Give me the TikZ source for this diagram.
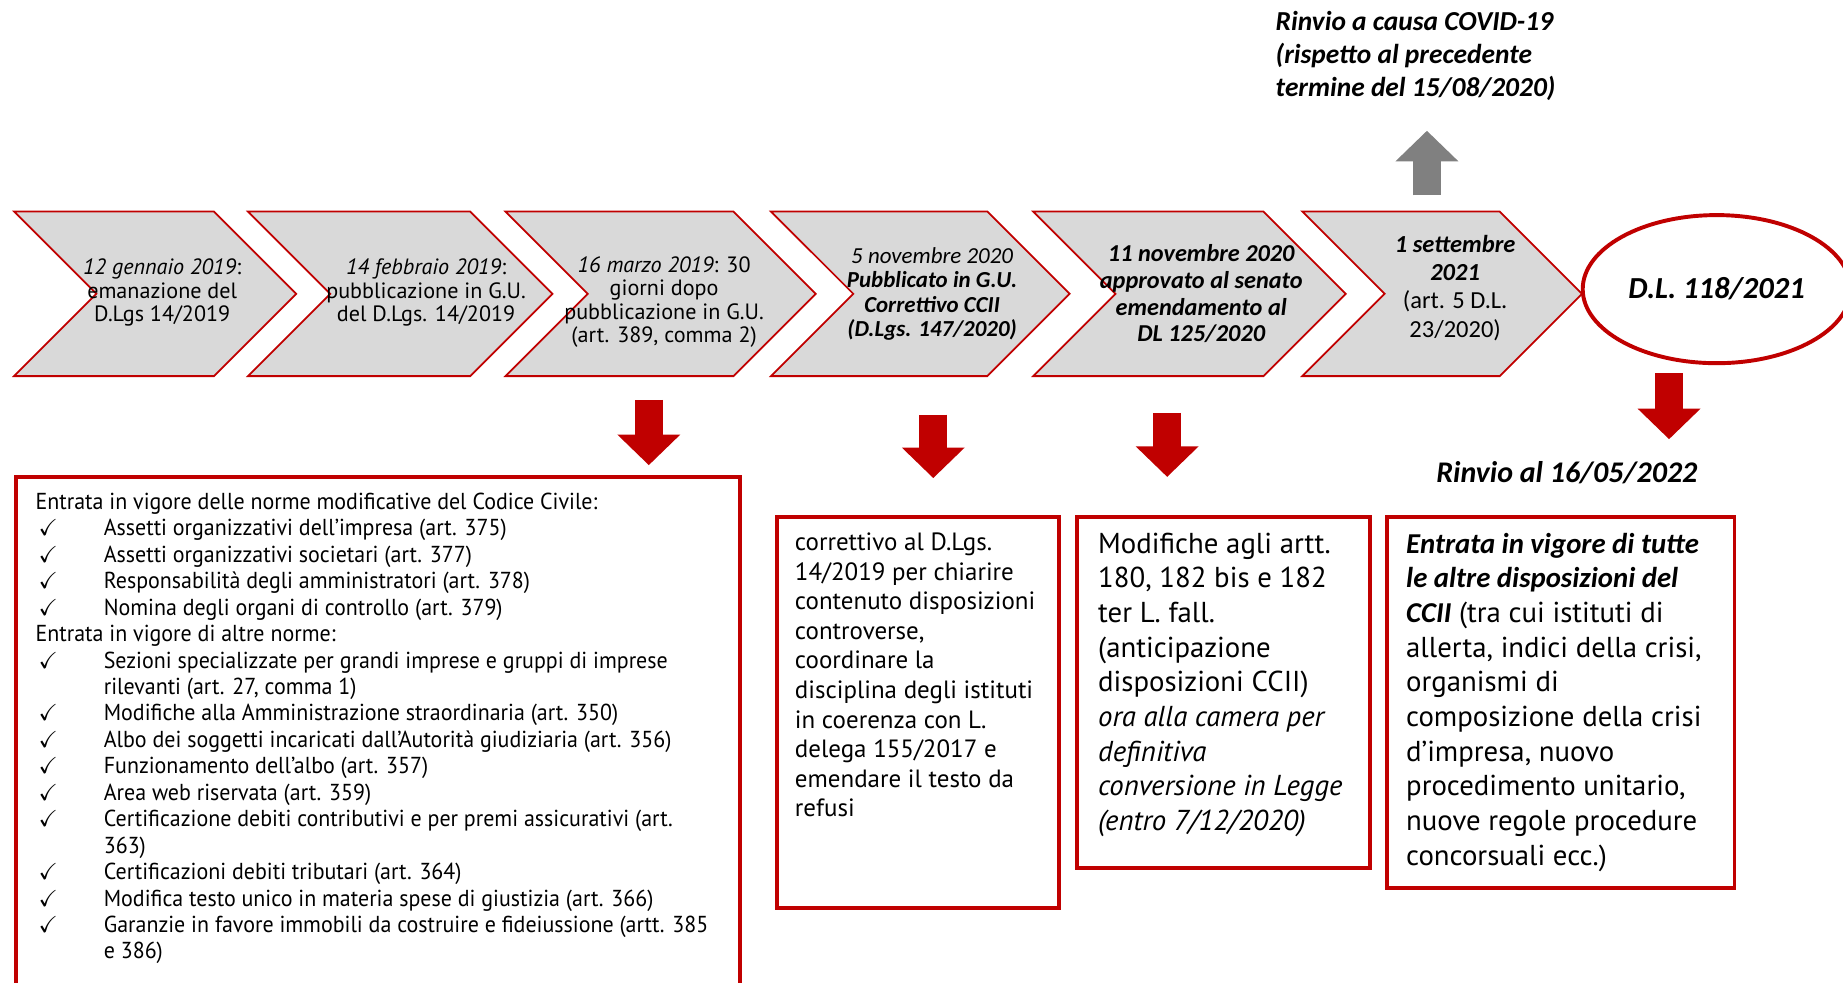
\documentclass[tikz,border=0pt]{standalone}
\usepackage{fontspec}
\usepackage{amssymb}
\setmainfont{PT Sans}
\newfontfamily\calfont{Carlito}
\newfontfamily\narrowfont[FakeStretch=0.95]{PT Sans}
\usetikzlibrary{arrows.meta, positioning, calc, shapes.symbols, shapes.geometric}
\definecolor{darkred}{HTML}{C00000}
\definecolor{chevgray}{HTML}{D9D9D9}
\definecolor{upgray}{HTML}{808080}
\newcommand{\chk}{\makebox[34.8pt][l]{\hspace{1.5pt}$\checkmark$}}

\begin{document}
\begin{tikzpicture}[x=0.6pt, y=-0.6pt,
    chev/.style={signal, signal from=west, signal to=east, signal pointer angle=90,
        draw=darkred, line width=0.9pt, fill=chevgray, minimum height=84pt, inner sep=0pt},
    chevtext/.style={align=center, inner sep=0pt, font=\fontsize{11.3}{12}\selectfont},
    boldtext/.style={align=center, inner sep=0pt, font=\calfont\bfseries\itshape\fontsize{12.4}{13.6}\selectfont},
    redbox/.style={draw=darkred, line width=2pt, anchor=north west, inner sep=0pt},
    boxtext/.style={anchor=north west, align=left, inner sep=0pt},
    downarrow/.style={line width=14.4pt, darkred, -{Triangle[width=31.2pt,length=15.6pt]}},
    uparrow/.style={line width=14.4pt, upgray, -{Triangle[width=31.2pt,length=15.6pt]}}]
  \useasboundingbox (0,0) rectangle (1568,836);

  % timeline
  \node[chev, minimum width=144pt] (c1) at (132,250) {};
  \node[chev, minimum width=155.4pt] (c2) at (340.5,250) {};
  \node[chev, minimum width=158.4pt] (c3) at (562,250) {};
  \node[chev, minimum width=152.4pt] (c4) at (783,250) {};
  \node[chev, minimum width=159.6pt] (c5) at (1012,250) {};
  \node[chev, minimum width=142.8pt] (c6) at (1227,250) {};
  \node[ellipse, draw=darkred, line width=2pt, minimum width=129pt, minimum height=75.6pt] (dl) at (1460.5,246)
    {\calfont\bfseries\itshape\fontsize{15.6}{18}\selectfont D.L. 118/2021};

  \node[chevtext] (c1t) at ($(c1)+(6,-1)$) {\textit{12 gennaio 2019}:\\emanazione del\\D.Lgs 14/2019};
  \node[chevtext] (c2t) at ($(c2)+(22,-1)$) {\textit{14 febbraio 2019}:\\pubblicazione in G.U.\\del D.Lgs. 14/2019};
  \node[chevtext] (c3t) at ($(c3)+(3,7)$) {\textit{16 marzo 2019}: 30\\giorni dopo\\pubblicazione in G.U.\\(art. 389, comma 2)};
  \node[boldtext, font=\calfont\bfseries\itshape\fontsize{11.7}{12.4}\selectfont] (c4t) at ($(c4)+(10,0)$)
    {\mdseries 5 novembre 2020\\Pubblicato in G.U.\\Correttivo CCII\\(D.Lgs. 147/2020)};
  \node[boldtext] (c5t) at ($(c5)+(10,0)$) {11 novembre 2020\\approvato al senato\\emendamento al\\DL 125/2020};
  \node[boldtext, font=\calfont\fontsize{12.5}{14.4}\selectfont] (c6t) at ($(c6)+(11,-5)$)
    {\textbf{\textit{1 settembre}}\\\textbf{\textit{2021}}\\(art. 5 D.L.\\23/2020)};

  % rinvio covid
  \draw[uparrow] ($(c6.north)+(-13,-13)$) -- ($(c6.north)+(-13,-68)$);
  \node[boxtext, font=\calfont\bfseries\itshape\fontsize{14}{16.8}\selectfont] (covid) at (1085,9)
    {Rinvio a causa COVID-19\\(rispetto al precedente\\termine del 15/08/2020)};

  % boxes
  \node[redbox, minimum width=369.6pt, minimum height=259.8pt] (b1) at (12,404) {};
  \node[redbox, minimum width=144pt, minimum height=199.8pt] (b2) at (659,438) {};
  \node[redbox, minimum width=149.4pt, minimum height=179.4pt] (b3) at (915,438) {};
  \node[redbox, minimum width=177.6pt, minimum height=189.6pt] (b4) at (1178,438) {};

  \draw[downarrow] ($(c3.south)+(-10,19.5)$) -- ($(c3.south)+(-10,75)$);
  \draw[downarrow] ($(c4.south)+(11,32)$) -- ($(c4.south)+(11,86)$);
  \draw[downarrow] ($(c5.south)+(-19,30.5)$) -- ($(c5.south)+(-19,85)$);
  \draw[downarrow] ($(dl.south)+(-40.5,7)$) -- ($(dl.south)+(-40.5,63)$);

  \node[font=\calfont\bfseries\itshape\fontsize{15.3}{18}\selectfont] (rinvio) at (1333,402) {Rinvio al 16/05/2022};

  \node[boxtext, font=\narrowfont\fontsize{11.8}{13.5}\selectfont] (t1) at ($(b1.north west)+(18,15)$) {%
    Entrata in vigore delle norme modificative del Codice Civile:\\
    \chk Assetti organizzativi dell’impresa (art. 375)\\
    \chk Assetti organizzativi societari (art. 377)\\
    \chk Responsabilità degli amministratori (art. 378)\\
    \chk Nomina degli organi di controllo (art. 379)\\
    Entrata in vigore di altre norme:\\
    \chk Sezioni specializzate per grandi imprese e gruppi di imprese\\
    \hspace*{34.8pt}rilevanti (art. 27, comma 1)\\
    \chk Modifiche alla Amministrazione straordinaria (art. 350)\\
    \chk Albo dei soggetti incaricati dall’Autorità giudiziaria (art. 356)\\
    \chk Funzionamento dell’albo (art. 357)\\
    \chk Area web riservata (art. 359)\\
    \chk Certificazione debiti contributivi e per premi assicurativi (art.\\
    \hspace*{34.8pt}363)\\
    \chk Certificazioni debiti tributari (art. 364)\\
    \chk Modifica testo unico in materia spese di giustizia (art. 366)\\
    \chk Garanzie in favore immobili da costruire e fideiussione (artt. 385\\
    \hspace*{34.8pt}e 386)};

  \node[boxtext, font=\fontsize{12.75}{15.1}\selectfont] (t2) at ($(b2.north west)+(17,15)$) {%
    correttivo al D.Lgs.\\14/2019 per chiarire\\contenuto disposizioni\\controverse,\\coordinare la\\
    disciplina degli istituti\\in coerenza con L.\\delega 155/2017 e\\emendare il testo da\\refusi};

  \node[boxtext, font=\fontsize{14.7}{17.7}\selectfont] (t3) at ($(b3.north west)+(19,15)$) {%
    Modifiche agli artt.\\180, 182 bis e 182\\ter L. fall.\\(anticipazione\\disposizioni CCII)\\
    \textit{ora alla camera per}\\\textit{definitiva}\\\textit{conversione in Legge}\\\textit{(entro 7/12/2020)}};

  \node[boxtext, font=\fontsize{14.7}{17.7}\selectfont] (t4) at ($(b4.north west)+(18,15)$) {%
    {\calfont\bfseries\itshape Entrata in vigore di tutte}\\
    {\calfont\bfseries\itshape le altre disposizioni del}\\
    {\calfont\bfseries\itshape CCII} (tra cui istituti di\\
    allerta, indici della crisi,\\organismi di\\composizione della crisi\\d’impresa, nuovo\\
    procedimento unitario,\\nuove regole procedure\\concorsuali ecc.)};
\end{tikzpicture}
\end{document}
